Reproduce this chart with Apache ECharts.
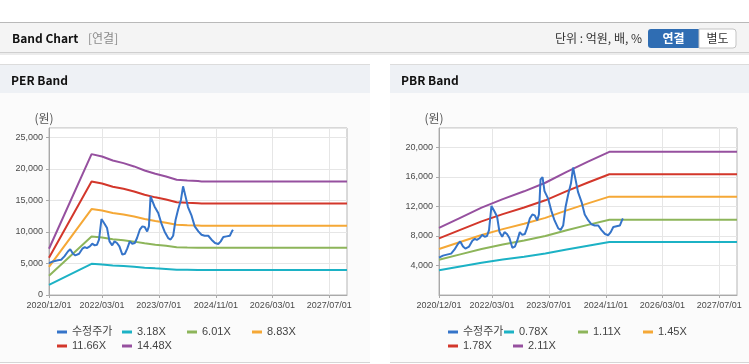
<!DOCTYPE html>
<html>
<head>
<meta charset="utf-8">
<script src="https://cdn.jsdelivr.net/npm/echarts@6/dist/echarts.min.js"></script>
<style>
html, body { margin: 0; padding: 0; background: #fff; }
#chart { width: 749px; height: 364px; }
</style>
</head>
<body>
<div id="chart"></div>
<script>
// x axis
const tickLabels = ['2020/12/01', '2022/03/01', '2023/07/01', '2024/11/01', '2026/03/01', '2027/07/01'];
const xStart = '2020/12/01';
const xEnd = '2027/12/01';

// 수정주가 (same line in both charts)
const priceDates = [
  '2020/12/01', '2021/01/04', '2021/02/15', '2021/03/15', '2021/04/12', '2021/05/12', '2021/06/01',
  '2021/06/25', '2021/07/15', '2021/08/16', '2021/09/13', '2021/10/04', '2021/10/22', '2021/11/16',
  '2021/12/07', '2021/12/28', '2022/01/17', '2022/02/03', '2022/02/24', '2022/03/22', '2022/04/13',
  '2022/05/04', '2022/05/27', '2022/06/16', '2022/07/07', '2022/07/28', '2022/08/22', '2022/09/13',
  '2022/10/03', '2022/10/25', '2022/11/15', '2022/12/07', '2022/12/26', '2023/01/19', '2023/02/10',
  '2023/03/02', '2023/03/23', '2023/04/07', '2023/04/21', '2023/05/08', '2023/05/25', '2023/06/26',
  '2023/07/22', '2023/08/19', '2023/09/19', '2023/10/10', '2023/11/01', '2023/11/22', '2023/12/13',
  '2024/01/07', '2024/01/25', '2024/02/15', '2024/03/07', '2024/04/07', '2024/05/04', '2024/06/04',
  '2024/07/01', '2024/07/28', '2024/08/28', '2024/09/25', '2024/10/25', '2024/11/22', '2024/12/13',
  '2025/01/04', '2025/02/01', '2025/03/01', '2025/03/19', '2025/03/28'
];
const priceValues = [
  5050, 5330, 5500, 5600, 6130, 6900, 7250,
  6550, 6290, 6550, 7350, 7600, 7450, 7720,
  8140, 7880, 7980, 8770, 12050, 11310, 10620,
  8510, 7880, 8510, 8250, 7720, 6400, 6550,
  7350, 8510, 8140, 8250, 9040, 10360, 10890,
  10780, 10090, 10890, 15650, 15950, 14060, 13000,
  11420, 10090, 9040, 8800, 9400, 11950, 13530,
  15120, 17250, 15650, 13950, 12580, 10890, 10090,
  9570, 9400, 9400, 8780, 8250, 8090, 8510,
  9200, 9300, 9400, 10100, 10350
];

// PER band
const perDates = [
  '2020/12/01', '2021/12/01', '2022/03/01', '2022/06/01', '2022/09/01', '2022/12/01', '2023/03/01',
  '2023/06/01', '2023/09/01', '2023/12/01', '2024/03/01', '2024/06/01', '2024/07/01', '2027/12/01'
];
const perNames = ['3.18X', '6.01X', '8.83X', '11.66X', '14.48X'];
const per318 = [1612, 4950, 4827, 4687, 4595, 4481, 4341, 4226, 4131, 4016, 3991, 3969, 3959, 3959];
const per601 = [3047, 9280, 9123, 8859, 8684, 8468, 8204, 7987, 7807, 7591, 7543, 7500, 7482, 7482];
const per883 = [4477, 13634, 13404, 13015, 12759, 12441, 12053, 11735, 11470, 11152, 11082, 11020, 10993, 10993];
const per1166 = [5912, 18003, 17700, 17187, 16849, 16429, 15916, 15496, 15146, 14727, 14633, 14552, 14517, 14517];
const per1448 = [7341, 22357, 21981, 21344, 20924, 20402, 19765, 19244, 18810, 18288, 18172, 18071, 18028, 18028];

// PBR band
const pbrDates = [
  '2020/12/01', '2021/06/01', '2021/12/01', '2022/06/01', '2022/12/01',
  '2023/06/01', '2023/12/01', '2024/06/01', '2024/12/01', '2027/12/01'
];
const pbrNames = ['0.78X', '1.11X', '1.45X', '1.78X', '2.11X'];
const pbr078 = [3354, 3861, 4368, 4797, 5187, 5616, 6162, 6669, 7160, 7160];
const pbr111 = [4773, 5495, 6216, 6827, 7382, 7992, 8769, 9491, 10190, 10190];
const pbr145 = [6235, 7178, 8120, 8918, 9643, 10440, 11455, 12398, 13311, 13311];
const pbr178 = [7654, 8811, 9968, 10947, 11837, 12816, 14062, 15219, 16340, 16340];
const pbr211 = [9073, 10445, 11816, 12977, 14032, 15192, 16669, 18041, 19370, 19370];

const bandColors = ['#1cb2c5', '#8db55a', '#f5a836', '#d3372b', '#96509f'];
const priceColor = '#3574c9';
const FONT = '"Liberation Sans", Arial, "Noto Sans CJK KR", sans-serif';
const KFONT = '"Noto Sans CJK KR", sans-serif';

function toTime(s) {
  const p = s.split('/');
  return new Date(+p[0], +p[1] - 1, +p[2]).getTime();
}
function pairs(dates, vals) {
  return dates.map((d, i) => [toTime(d), vals[i]]);
}
function fmtDate(v) {
  const d = new Date(v);
  return d.getFullYear() + '/' + String(d.getMonth() + 1).padStart(2, '0') + '/' + String(d.getDate()).padStart(2, '0');
}
const tickTimes = tickLabels.map(toTime);

function xAxisFor(idx) {
  return {
    type: 'value', gridIndex: idx, scale: true,
    min: toTime(xStart), max: toTime(xEnd),
    axisLine: { lineStyle: { color: '#a9a9a9' } },
    axisTick: { show: true, customValues: tickTimes, length: 3, lineStyle: { color: '#a9a9a9' } },
    axisLabel: { customValues: tickTimes, formatter: fmtDate, color: '#4a4a4a', fontSize: 9, fontFamily: FONT, margin: 6 },
    splitLine: { show: true, lineStyle: { color: '#e6e6e6' } }
  };
}
function yAxisFor(idx, max, step, hideMin) {
  return {
    type: 'value', gridIndex: idx, min: 0, max: max, interval: step,
    axisLine: { show: true, lineStyle: { color: '#a9a9a9' } },
    axisTick: { show: true, length: 3, lineStyle: { color: '#a9a9a9' } },
    axisLabel: { color: '#4a4a4a', fontSize: 9, fontFamily: FONT, margin: 6, showMaxLabel: false, showMinLabel: !hideMin },
    splitLine: { show: true, lineStyle: { color: '#e6e6e6' } }
  };
}
function line(name, data, color, idx) {
  return {
    name: name, type: 'line', xAxisIndex: idx, yAxisIndex: idx,
    data: data, showSymbol: false, symbol: 'none', color: color,
    lineStyle: { width: 2, color: color }
  };
}

const series = [];
[per318, per601, per883, per1166, per1448].forEach((v, i) => series.push(line(perNames[i], pairs(perDates, v), bandColors[i], 0)));
series.push(line('수정주가', pairs(priceDates, priceValues), priceColor, 0));
[pbr078, pbr111, pbr145, pbr178, pbr211].forEach((v, i) => series.push(line(pbrNames[i], pairs(pbrDates, v), bandColors[i], 1)));
series.push(line('수정주가', pairs(priceDates, priceValues), priceColor, 1));

function txt(text, x, y, opts) {
  return {
    type: 'text', z: 5,
    style: Object.assign({ text: text, x: x, y: y, fill: '#333', fontSize: 12, fontFamily: KFONT, align: 'left', verticalAlign: 'middle' }, opts || {})
  };
}
function rect(x, y, w, h, fill, extra) {
  return { type: 'rect', z: -10, shape: Object.assign({ x: x, y: y, width: w, height: h }, (extra && extra.shape) || {}), style: Object.assign({ fill: fill }, (extra && extra.style) || {}) };
}

const graphic = [
  rect(0, 0, 749, 364, '#fff'),
  // top header
  rect(0, 22, 749, 1, '#b9b9b9'),
  rect(0, 23, 749, 29, '#f4f4f4'),
  rect(0, 52, 749, 1, '#cfcfcf'),
  rect(0, 53, 749, 2, '#ececec'),
  txt('Band Chart', 12, 38, { fontWeight: 'bold', fontSize: 12, fill: '#111', fontFamily: KFONT }),
  txt('[연결]', 88, 38, { fill: '#8a8a8a', fontSize: 12 }),
  txt('단위 : 억원, 배, %', 642, 38, { align: 'right', fontSize: 12, fill: '#333' }),
  rect(648, 29, 51, 19, '#2f6db3', { shape: { r: [3, 0, 0, 3] } }),
  rect(699, 29, 37, 19, '#fff', { shape: { r: [0, 3, 3, 0] }, style: { stroke: '#c4c4c4', lineWidth: 1 } }),
  txt('연결', 673.5, 38.5, { align: 'center', fill: '#fff', fontWeight: 'bold', fontSize: 12 }),
  txt('별도', 717.5, 38.5, { align: 'center', fill: '#333', fontSize: 12 }),
  // panels
  rect(0, 64, 370, 299, '#fbfbfb'),
  rect(390, 64, 359, 299, '#fbfbfb'),
  rect(0, 64, 370, 29, '#eef1f5'),
  rect(390, 64, 359, 29, '#eef1f5'),
  rect(0, 64, 370, 1, '#dcdcdc'),
  rect(390, 64, 359, 1, '#dcdcdc'),
  rect(0, 362, 370, 1, '#d6d6d6'),
  rect(390, 362, 359, 1, '#d6d6d6'),
  txt('PER Band', 11, 80, { fontWeight: 'bold', fontSize: 12, fill: '#111' }),
  txt('PBR Band', 401, 80, { fontWeight: 'bold', fontSize: 12, fill: '#111' }),
  txt('(원)', 44, 118, { align: 'center', fill: '#555', fontSize: 12 }),
  txt('(원)', 434, 118, { align: 'center', fill: '#555', fontSize: 12 })
];

const legendText = { fontSize: 11, color: '#444', fontFamily: FONT, width: 50, lineHeight: 14 };

const option = {
  animation: false,
  backgroundColor: '#fff',
  graphic: graphic,
  grid: [
    { left: 49, top: 128, width: 298, height: 167, show: true, backgroundColor: '#fff', borderColor: '#b5b5b5', borderWidth: 1 },
    { left: 439, top: 128, width: 298, height: 167, show: true, backgroundColor: '#fff', borderColor: '#b5b5b5', borderWidth: 1 }
  ],
  xAxis: [xAxisFor(0), xAxisFor(1)],
  yAxis: [yAxisFor(0, 26500, 5000, false), yAxisFor(1, 22600, 4000, true)],
  legend: [
    {
      left: 52, top: 320, width: 275, itemWidth: 10, itemHeight: 3, itemGap: 0, icon: 'rect',
      textStyle: legendText,
      data: ['수정주가'].concat(perNames)
    },
    {
      left: 443, top: 320, width: 275, itemWidth: 10, itemHeight: 3, itemGap: 0, icon: 'rect',
      textStyle: legendText,
      data: [
        { name: '수정주가', textStyle: { width: 41 } },
        { name: '0.78X', textStyle: { width: 59 } },
        '1.11X', '1.45X', '1.78X', '2.11X'
      ]
    }
  ],
  series: series
};

const chart = echarts.init(document.getElementById('chart'));
chart.setOption(option);
</script>
</body>
</html>
